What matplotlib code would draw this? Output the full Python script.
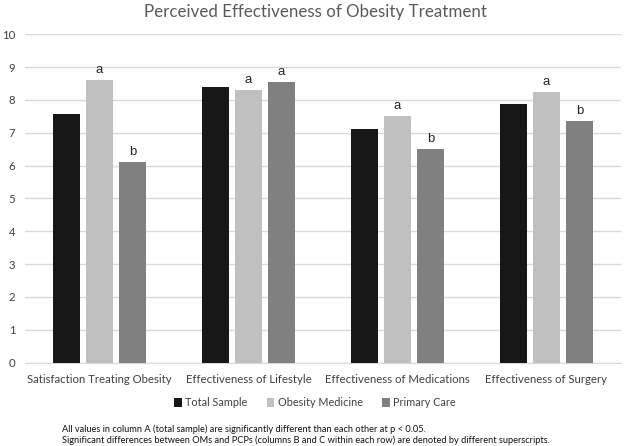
import matplotlib
matplotlib.use("Agg")
import matplotlib.pyplot as plt
import numpy as np

categories = ["Satisfaction Treating Obesity", "Effectiveness of Lifestyle",
              "Effectiveness of Medications", "Effectiveness of Surgery"]
series_names = ["Total Sample", "Obesity Medicine", "Primary Care"]
total_sample = [7.57, 8.40, 7.11, 7.89]
obesity_medicine = [8.60, 8.30, 7.50, 8.24]
primary_care = [6.11, 8.54, 6.51, 7.37]
om_letters = ["a", "a", "a", "a"]
pc_letters = ["b", "a", "b", "b"]
yticks = list(range(0, 11))
title = "Perceived Effectiveness of Obesity Treatment"
footnotes = ["All values in column A (total sample) are significantly different than each other at p < 0.05.",
             "Significant differences between OMs and PCPs (columns B and C within each row) are denoted by different superscripts."]

colors = ["#171717", "#c0c0c0", "#808080"]
plt.rcParams['font.family'] = ['Lato', 'DejaVu Sans']

fig = plt.figure(figsize=(6.3, 4.46), dpi=100)
ax = fig.add_axes([0.0397, 0.187, 0.946, 0.736])

x = np.arange(len(categories))
w = 0.18
step = 0.222
offsets = [-step, 0, step]
data = [total_sample, obesity_medicine, primary_care]
for d, off, c, n in zip(data, offsets, colors, series_names):
    ax.bar(x + off, d, width=w, color=c, label=n, zorder=3)

for i in range(len(categories)):
    ax.text(x[i] + offsets[1], obesity_medicine[i] + 0.12, om_letters[i], ha='center', va='bottom',
            fontsize=9.5, color='#262626', family=['Liberation Sans', 'DejaVu Sans'])
    ax.text(x[i] + offsets[2], primary_care[i] + 0.12, pc_letters[i], ha='center', va='bottom',
            fontsize=9.5, color='#262626', family=['Liberation Sans', 'DejaVu Sans'])

ax.set_ylim(0, 10)
ax.set_xlim(-0.5, len(categories) - 0.5)
ax.set_yticks(yticks)
ax.yaxis.grid(True, color='#d9d9d9', linewidth=1, zorder=0)
ax.set_axisbelow(True)
for s in ['top', 'right', 'left']:
    ax.spines[s].set_visible(False)
ax.spines['bottom'].set_color('#d9d9d9')
ax.tick_params(axis='both', length=0, labelsize=8.2, labelcolor='#404040')
ax.tick_params(axis='y', pad=7)
ax.tick_params(axis='x', pad=8)
ax.set_xticks(x)
ax.set_xticklabels(categories)

fig.text(0.5, 0.972, title, ha='center', va='center', fontsize=12.2, color='#595959')

fig.legend(loc='center', bbox_to_anchor=(0.5, 0.097), ncol=3, frameon=False, fontsize=7.8,
           handlelength=0.7, handleheight=0.8, handletextpad=0.3, columnspacing=1.8,
           labelcolor='#404040')

fig.text(0.098, 0.038, footnotes[0], ha='left', va='center', fontsize=6.7, color='#111111')
fig.text(0.098, 0.012, footnotes[1], ha='left', va='center', fontsize=6.7, color='#111111')

fig.savefig("out.png", dpi=100)
